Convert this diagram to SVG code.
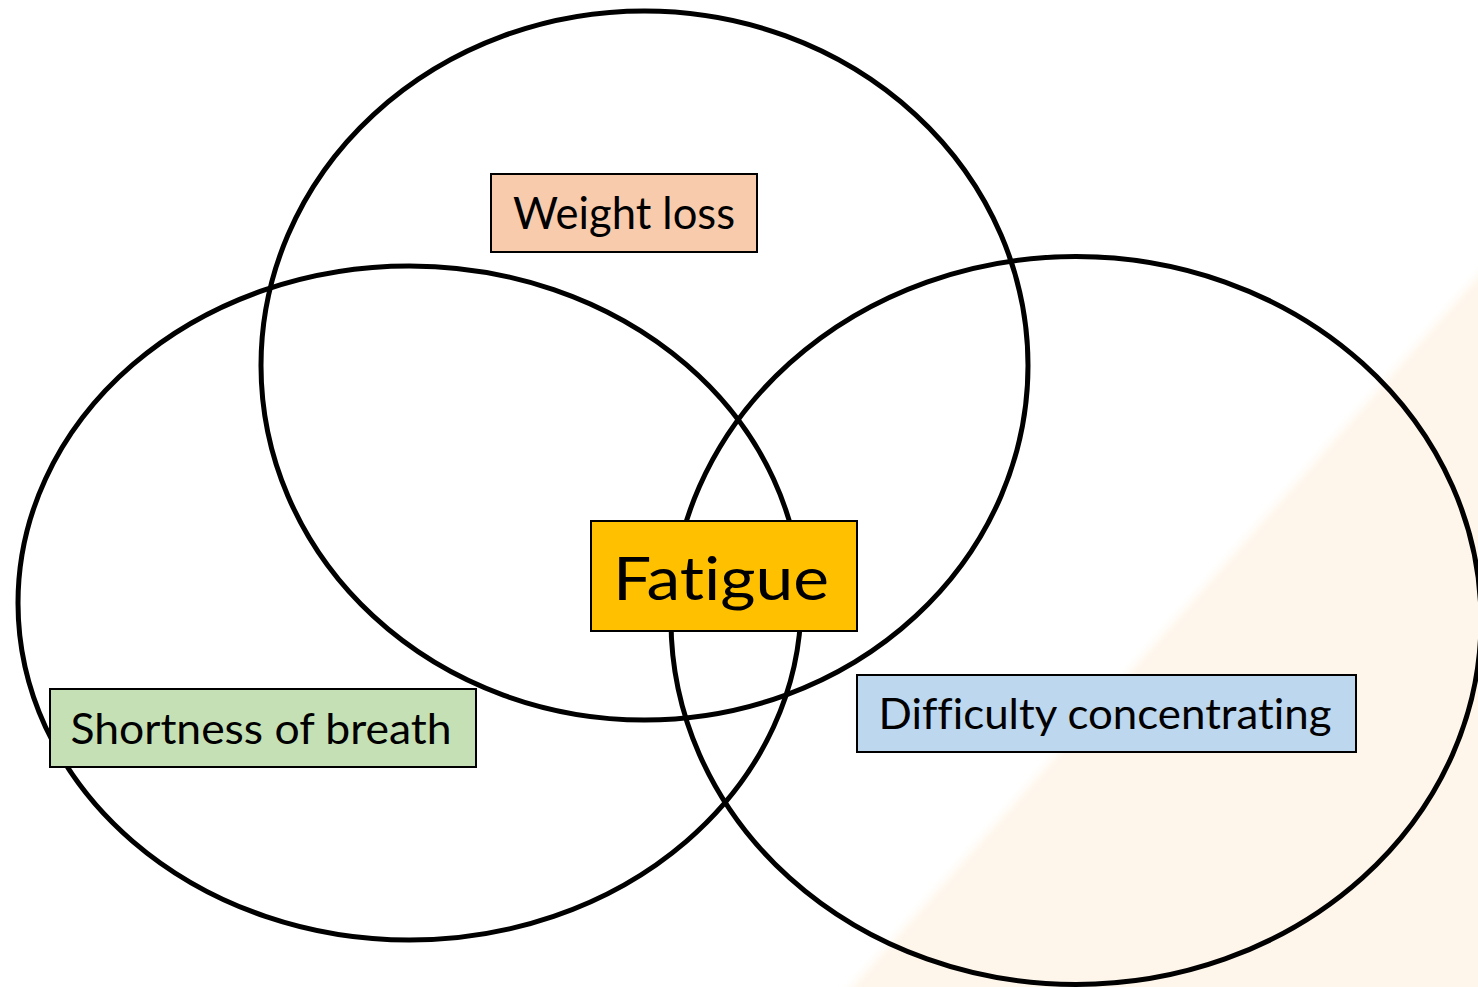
<svg xmlns="http://www.w3.org/2000/svg" width="1478" height="987" viewBox="0 0 1478 987">
  <defs>
    <style>
      .ring { fill: none; stroke: #000; stroke-width: 5; }
      .box { stroke: #000; stroke-width: 2; }
      .lbl { font-family: Lato, "Open Sans", "Liberation Sans", sans-serif; fill: #000; text-anchor: middle; font-variant-ligatures: none; font-feature-settings: "liga" 0, "clig" 0; }
    </style>
    <filter id="soft" x="-5%" y="-5%" width="110%" height="110%">
      <feGaussianBlur stdDeviation="4"/>
    </filter>
  </defs>
  <rect width="1478" height="987" fill="#ffffff"/>
  <polygon points="1490,262 1490,1000 840,1000" fill="#FEF6EB" filter="url(#soft)"/>

  <g id="circles">
    <ellipse id="circle-weight" class="ring" cx="644.5" cy="365.5" rx="383.5" ry="354.5"/>
    <ellipse id="circle-breath" class="ring" cx="409.5" cy="603" rx="391.5" ry="337"/>
    <ellipse id="circle-concentration" class="ring" cx="1076" cy="620.5" rx="405" ry="364"/>
  </g>

  <g id="connectors"></g>

  <g id="node-weight-loss">
    <rect class="box" x="491" y="174" width="266" height="78" fill="#F8CBAD"/>
    <text class="lbl" x="624" y="229" font-size="44" textLength="222" lengthAdjust="spacingAndGlyphs">Weight loss</text>
  </g>
  <g id="node-fatigue">
    <rect class="box" x="591" y="521" width="266" height="110" fill="#FFC000"/>
    <text class="lbl" x="721" y="600" font-size="60" textLength="216" lengthAdjust="spacingAndGlyphs">Fatigue</text>
  </g>
  <g id="node-shortness">
    <rect class="box" x="50" y="689" width="426" height="78" fill="#C5E0B4"/>
    <text class="lbl" x="261" y="744" font-size="42" textLength="381" lengthAdjust="spacingAndGlyphs">Shortness of breath</text>
  </g>
  <g id="node-difficulty">
    <rect class="box" x="857" y="675" width="499" height="77" fill="#BDD7EE"/>
    <text class="lbl" x="1105" y="729" font-size="43" textLength="453" lengthAdjust="spacingAndGlyphs">Difficulty concentrating</text>
  </g>
</svg>
